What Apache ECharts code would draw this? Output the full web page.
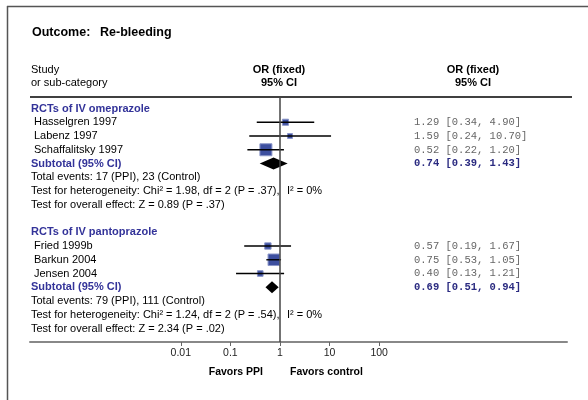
<!DOCTYPE html>
<html><head><meta charset="utf-8">
<script src="https://cdn.jsdelivr.net/npm/echarts@6/dist/echarts.min.js"></script>
<style>html,body{margin:0;padding:0;background:#fff}#c{width:588px;height:400px}</style>
</head><body><div id="c"></div>
<script>
// ---- data ----
const groups = ['RCTs of IV omeprazole', 'RCTs of IV pantoprazole'];
const studies = ['Hasselgren 1997', 'Labenz 1997', 'Schaffalitsky 1997', 'Fried 1999b', 'Barkun 2004', 'Jensen 2004'];
const studyGroup = [0, 0, 0, 1, 1, 1];
const orVals = [1.29, 1.59, 0.52, 0.57, 0.75, 0.40];
const ciLow = [0.34, 0.24, 0.22, 0.19, 0.53, 0.13];
const ciHigh = [4.90, 10.70, 1.20, 1.67, 1.05, 1.21];
const weights = [6.5, 4.3, 25, 7, 23, 5.5];
const subOr = [0.74, 0.69];
const subLow = [0.39, 0.51];
const subHigh = [1.43, 0.94];
const totalEvents = ['Total events: 17 (PPI), 23 (Control)', 'Total events: 79 (PPI), 111 (Control)'];
const heterogeneity = ['Test for heterogeneity: Chi\u00B2 = 1.98, df = 2 (P = .37),', 'Test for heterogeneity: Chi\u00B2 = 1.24, df = 2 (P = .54),'];
const iSquared = ['I\u00B2 = 0%', 'I\u00B2 = 0%'];
const overallEffect = ['Test for overall effect: Z = 0.89 (P = .37)', 'Test for overall effect: Z = 2.34 (P = .02)'];
const tickValues = [0.01, 0.1, 1, 10, 100];
const tickLabels = ['0.01', '0.1', '1', '10', '100'];

// ---- layout ----
const FONT = '"Liberation Sans", Arial, sans-serif';
const MONO = '"Liberation Mono", "Courier New", monospace';
const NAVY = '#333399';
const ROWS_PER_GROUP = 9;
const colHeader = 31, colName = 34, colStat = 31, colI2 = 287, colVal = 414;
const lg = v => Math.log10(v);
const fmt = (o, l, h) => `${o.toFixed(2)} [${l.toFixed(2)}, ${h.toFixed(2)}]`;

// build rows
const studyData = [];
const textRows = [];
const counters = [0, 0];
studies.forEach((s, i) => {
  const g = studyGroup[i];
  counters[g]++;
  const row = g * ROWS_PER_GROUP + counters[g];
  studyData.push([lg(orVals[i]), lg(ciLow[i]), lg(ciHigh[i]), row, weights[i]]);
  textRows.push({ row, x: colName, text: s, style: 'plain' });
  textRows.push({ row, x: colVal, text: fmt(orVals[i], ciLow[i], ciHigh[i]), style: 'mono' });
});
const subData = [];
groups.forEach((gname, g) => {
  const base = g * ROWS_PER_GROUP;
  textRows.push({ row: base, x: colHeader, text: gname, style: 'head' });
  textRows.push({ row: base + 4, x: colHeader, text: 'Subtotal (95% CI)', style: 'head' });
  textRows.push({ row: base + 4, x: colVal, text: fmt(subOr[g], subLow[g], subHigh[g]), style: 'monoBold' });
  textRows.push({ row: base + 5, x: colStat, text: totalEvents[g], style: 'plain' });
  textRows.push({ row: base + 6, x: colStat, text: heterogeneity[g], style: 'plain' });
  textRows.push({ row: base + 6, x: colI2, text: iSquared[g], style: 'plain' });
  textRows.push({ row: base + 7, x: colStat, text: overallEffect[g], style: 'plain' });
  subData.push([lg(subOr[g]), lg(subLow[g]), lg(subHigh[g]), base + 4]);
});

const styles = {
  plain: { font: `11px ${FONT}`, fill: '#000' },
  head: { font: `bold 11px ${FONT}`, fill: NAVY },
  mono: { font: `10.5px ${MONO}`, fill: '#666' },
  monoBold: { font: `bold 10.5px ${MONO}`, fill: '#2a2a80' }
};

const chart = echarts.init(document.getElementById('c'), null, { renderer: 'canvas' });
chart.setOption({
  animation: false,
  backgroundColor: '#fff',
  grid: { left: 30, right: 21, top: 97, bottom: 58 },
  xAxis: {
    type: 'value', min: -5.04, max: 5.786,
    splitLine: { show: false },
    axisLine: { show: true, onZero: false, lineStyle: { color: '#888', width: 2 } },
    axisTick: { show: true, customValues: tickValues.map(lg), length: 4, lineStyle: { color: '#666', width: 1 } },
    axisLabel: {
      customValues: tickValues.map(lg), margin: 6,
      fontFamily: FONT, fontSize: 10.5, color: '#222',
      formatter: v => { const i = tickValues.findIndex(t => Math.abs(lg(t) - v) < 1e-6); return i >= 0 ? tickLabels[i] : ''; }
    }
  },
  yAxis: { type: 'value', inverse: true, min: -0.836, max: 16.98, show: false },
  series: [
    {
      type: 'custom', name: 'studies', data: studyData, z: 3,
      renderItem: (params, api) => {
        const c = api.coord([api.value(0), api.value(3)]);
        const l = api.coord([api.value(1), api.value(3)]);
        const h = api.coord([api.value(2), api.value(3)]);
        const s = 2.4 * Math.sqrt(api.value(4));
        return {
          type: 'group', children: [
            { type: 'rect', shape: { x: c[0] - s / 2, y: c[1] - s / 2, width: s, height: s },
              style: { fill: '#3d4f9f', stroke: '#8c97c9', lineWidth: 1 } },
            { type: 'line', shape: { x1: l[0], y1: l[1], x2: h[0], y2: h[1] },
              style: { stroke: '#000', lineWidth: 1.4 } }
          ]
        };
      },
      markLine: {
        silent: true, symbol: 'none', label: { show: false },
        lineStyle: { color: '#444', width: 1.5, type: 'solid' },
        data: [{ xAxis: 0 }]
      }
    },
    {
      type: 'custom', name: 'subtotals', data: subData, z: 4,
      renderItem: (params, api) => {
        const c = api.coord([api.value(0), api.value(3)]);
        const l = api.coord([api.value(1), api.value(3)]);
        const h = api.coord([api.value(2), api.value(3)]);
        return { type: 'polygon', shape: { points: [[l[0], c[1]], [c[0], c[1] - 6], [h[0], c[1]], [c[0], c[1] + 6]] },
          style: { fill: '#000' } };
      }
    },
    {
      type: 'custom', name: 'texts', data: textRows.map(r => [0, r.row]), z: 5, clip: false,
      renderItem: (params, api) => {
        const r = textRows[params.dataIndex];
        const p = api.coord([0, api.value(1)]);
        const st = styles[r.style];
        return { type: 'text', x: r.x, y: p[1],
          style: { text: r.text, font: st.font, fill: st.fill, textAlign: 'left', textVerticalAlign: 'middle' } };
      }
    }
  ],
  graphic: [
    { type: 'line', shape: { x1: 7.5, y1: 6, x2: 7.5, y2: 400 }, style: { stroke: '#555', lineWidth: 1.5 } },
    { type: 'line', shape: { x1: 7, y1: 6.5, x2: 588, y2: 6.5 }, style: { stroke: '#555', lineWidth: 1.5 } },
    { type: 'line', shape: { x1: 30, y1: 97, x2: 572, y2: 97 }, style: { stroke: '#000', lineWidth: 1.5 } },
    { type: 'text', x: 32, y: 33, style: { text: 'Outcome:', font: `bold 12.5px ${FONT}`, fill: '#000', textVerticalAlign: 'middle' } },
    { type: 'text', x: 100, y: 33, style: { text: 'Re-bleeding', font: `bold 12.5px ${FONT}`, fill: '#000', textVerticalAlign: 'middle' } },
    { type: 'text', x: 31, y: 70, style: { text: 'Study', font: `11px ${FONT}`, fill: '#000', textVerticalAlign: 'middle' } },
    { type: 'text', x: 31, y: 83, style: { text: 'or sub-category', font: `11px ${FONT}`, fill: '#000', textVerticalAlign: 'middle' } },
    { type: 'text', x: 279, y: 70, style: { text: 'OR (fixed)', font: `bold 11px ${FONT}`, fill: '#000', textAlign: 'center', textVerticalAlign: 'middle' } },
    { type: 'text', x: 279, y: 83, style: { text: '95% CI', font: `bold 11px ${FONT}`, fill: '#000', textAlign: 'center', textVerticalAlign: 'middle' } },
    { type: 'text', x: 473, y: 70, style: { text: 'OR (fixed)', font: `bold 11px ${FONT}`, fill: '#000', textAlign: 'center', textVerticalAlign: 'middle' } },
    { type: 'text', x: 473, y: 83, style: { text: '95% CI', font: `bold 11px ${FONT}`, fill: '#000', textAlign: 'center', textVerticalAlign: 'middle' } },
    { type: 'text', x: 263, y: 372, style: { text: 'Favors PPI', font: `bold 10.5px ${FONT}`, fill: '#000', textAlign: 'right', textVerticalAlign: 'middle' } },
    { type: 'text', x: 290, y: 372, style: { text: 'Favors control', font: `bold 10.5px ${FONT}`, fill: '#000', textAlign: 'left', textVerticalAlign: 'middle' } }
  ]
});
</script></body></html>
